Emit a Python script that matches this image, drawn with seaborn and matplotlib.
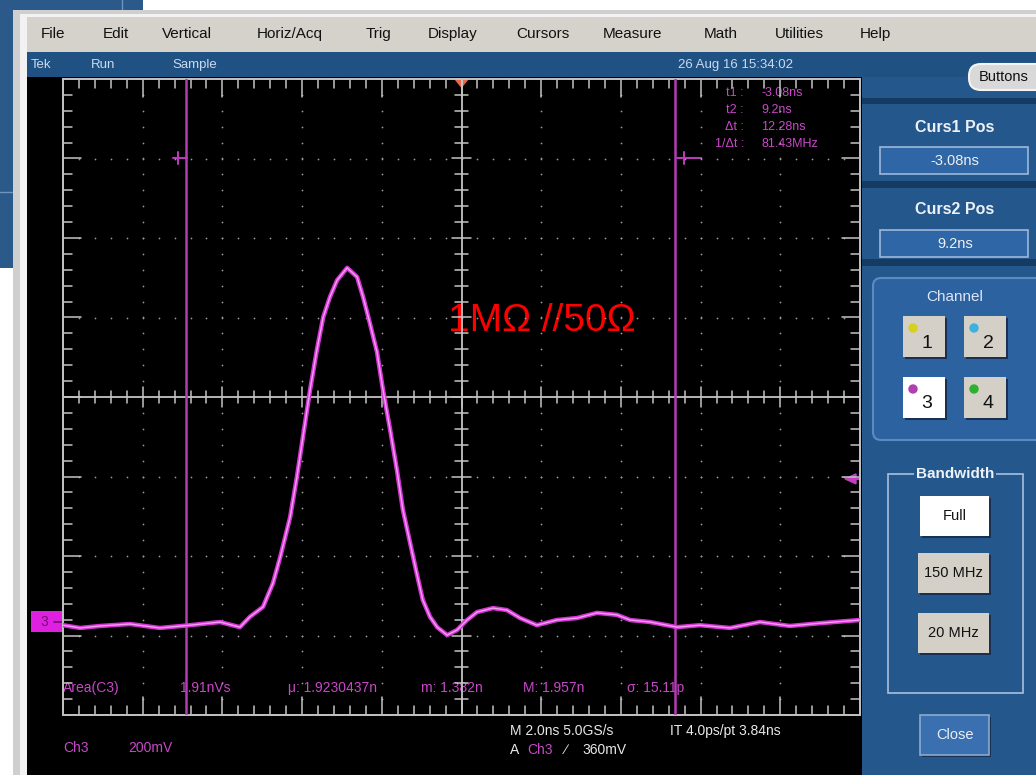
import numpy as np
import matplotlib
matplotlib.use("Agg")
import matplotlib.pyplot as plt
import seaborn as sns
from matplotlib.patches import Rectangle, FancyBboxPatch, Polygon

time_ns = [-6.16, -5.73, -5.23, -4.48, -3.73, -2.97, -2.22, -1.72, -1.47, -1.14,
           -0.89, -0.71, -0.46, -0.29, -0.14, 0.04, 0.21, 0.37, 0.54, 0.72,
           0.97, 1.22, 1.37, 1.54, 1.72, 1.87, 2.05, 2.22, 2.37, 2.55,
           2.72, 2.87, 3.05, 3.23, 3.48, 3.73, 3.98, 4.23, 4.63, 4.98,
           5.31, 5.73, 6.23, 6.74, 7.24, 7.74, 8.07, 8.57, 9.25, 9.82,
           10.58, 11.33, 12.08, 12.83, 13.84]
volt_mV = [-8, -15, -10, -5, -15, -8, 0, -13, 13, 38,
           98, 163, 264, 365, 465, 584, 684, 767, 818, 860,
           891, 868, 818, 752, 679, 584, 483, 382, 282, 199,
           121, 55, 13, -13, -33, -20, 5, 25, 35, 30,
           10, -8, 5, 10, 23, 18, 5, 0, -13, -8,
           -15, 0, -10, -3, 5]
cursor_ns = [-3.08, 9.2]
trigger_mV = 360
horiz_center_ns = 3.84
ns_per_div = 2.0
mV_per_div = 200.0

menu_items = ["File", "Edit", "Vertical", "Horiz/Acq", "Trig", "Display",
              "Cursors", "Measure", "Math", "Utilities", "Help"]
status_items = ["Tek", "Run", "Sample"]
date_text = "26 Aug 16 15:34:02"
readout_labels = ["t1 :", "t2 :", "\u0394t :", "1/\u0394t :"]
readout_values = ["-3.08ns", "9.2ns", "12.28ns", "81.43MHz"]
meas_texts = ["Area(C3)", "1.91nVs", "\u03bc: 1.9230437n", "m: 1.382n", "M: 1.957n", "\u03c3: 15.11p"]
annotation = "1M\u03a9 //50\u03a9"

# ---------------- style ----------------
sns.set_style("white")
plt.rcParams['font.family'] = ['Liberation Sans', 'DejaVu Sans']

W, H = 1036, 775
fig = plt.figure(figsize=(W / 100, H / 100), dpi=100)
fig.patch.set_facecolor("white")
bg = fig.add_axes([0, 0, 1, 1])
bg.set_xlim(0, W)
bg.set_ylim(H, 0)
bg.axis("off")


def rect(x0, y0, x1, y1, fc, ec="none", lw=0, z=1, **kw):
    p = Rectangle((x0, y0), x1 - x0, y1 - y0, facecolor=fc, edgecolor=ec, linewidth=lw, zorder=z, **kw)
    bg.add_patch(p)
    return p


def txt(x, y, s, color="black", size=10, ha="left", va="center", weight="normal", z=5, **kw):
    bg.text(x, y, s, color=color, fontsize=size, ha=ha, va=va, fontweight=weight, zorder=z, **kw)


# background window behind
rect(0, 0, 143, 268, "#2B5A8A")
bg.plot([0, 13], [192, 192], color="#6F95BF", lw=1, zorder=1.5)
bg.plot([122, 122], [0, 12], color="#6F95BF", lw=1, zorder=1.5)

# main window frame
rect(13, 10, W, H, "#CFCFCF", z=2)
rect(20, 14, W, H, "#F2F2F2", z=2.1)
rect(27, 17, W, 52, "#D5D2CB", z=2.2)
rect(27, 52, W, 77, "#1F5283", z=2.3)
rect(27, 77, 862, H, "#000000", z=2.3)
rect(862, 77, W, H, "#24578B", z=2.3)

# menu
menu_x = [41, 103, 162, 257, 366, 428, 516, 603, 704, 775, 860]
for x, m in zip(menu_x, menu_items):
    txt(x, 34, m, color="#111111", size=11)

# status bar
for x, s in zip([31, 91, 172], status_items):
    txt(x, 65, s, color="#C9DAF0", size=9.5)
txt(735, 65, date_text, color="#C9DAF0", size=9.5, ha="center")

# ---------------- right panel ----------------
for y0, y1 in [(98, 104), (181, 188), (259, 266)]:
    rect(862, y0, W, y1, "#163B63", z=2.5)
bg.add_patch(FancyBboxPatch((969, 64), 80, 26, boxstyle="round,pad=0,rounding_size=12",
                            facecolor="#D9D9D9", edgecolor="#F4F4F4", lw=1.5, zorder=3))
txt(1004, 77, "Buttons", color="#111111", size=10.5, ha="center")

txt(955, 127, "Curs1 Pos", color="#EEF2F8", size=11.5, ha="center", weight="bold")
rect(880, 147, 1028, 174, "#2F66A6", ec="#9DB8DA", lw=1.2, z=3)
txt(955, 161, "-3.08ns", color="#F0F0F0", size=10.5, ha="center")
txt(955, 210, "Curs2 Pos", color="#EEF2F8", size=11.5, ha="center", weight="bold")
rect(880, 230, 1028, 257, "#2F66A6", ec="#9DB8DA", lw=1.2, z=3)
txt(955, 244, "9.2ns", color="#F0F0F0", size=10.5, ha="center")

bg.add_patch(FancyBboxPatch((873, 278), 175, 162, boxstyle="round,pad=0,rounding_size=8",
                            facecolor="#2D62A0", edgecolor="#5C8AC2", lw=1.5, zorder=3))
txt(955, 297, "Channel", color="#DCE6F5", size=11, ha="center")
ch_btns = [(903, 316, "1", "#D8D020", "#D4D0C8"), (964, 316, "2", "#40B0E0", "#D4D0C8"),
           (903, 377, "3", "#B040B0", "#FFFFFF"), (964, 377, "4", "#30B030", "#D4D0C8")]
for x, y, lab, dot, face in ch_btns:
    rect(x + 2, y + 2, x + 44, y + 43, "#1A3050", z=3.2)
    rect(x, y, x + 42, y + 41, face, z=3.3)
    bg.add_patch(plt.Circle((x + 10, y + 12), 4, color=dot, zorder=3.5))
    txt(x + 24, y + 27, lab, color="#111111", size=14, ha="center")

rect(888, 474, 1023, 693, "none", ec="#A8C0E0", lw=1.2, z=3)
txt(955, 474, "Bandwidth", color="#EEF2F8", size=11, ha="center", weight="bold",
    bbox=dict(facecolor="#24578B", edgecolor="none", pad=1))
for (x0, y0, x1, y1, face, lab) in [(920, 496, 989, 536, "#FFFFFF", "Full"),
                                     (918, 553, 989, 593, "#D4D0C8", "150 MHz"),
                                     (918, 613, 989, 653, "#D4D0C8", "20 MHz")]:
    rect(x0 + 2, y0 + 2, x1 + 2, y1 + 2, "#1A3050", z=3.2)
    rect(x0, y0, x1, y1, face, z=3.3)
    txt((x0 + x1) / 2, (y0 + y1) / 2, lab, color="#111111", size=10.5, ha="center")
rect(922, 717, 991, 757, "#1A3050", z=3.2)
rect(920, 715, 989, 755, "#3A70B0", ec="#8AAAD0", lw=1.2, z=3.3)
txt(955, 735, "Close", color="#E8EEF8", size=10.5, ha="center")

# ---------------- scope display ----------------
gx0, gx1, gy0, gy1 = 63, 860, 79, 715
rect_ax = [gx0 / W, 1 - gy1 / H, (gx1 - gx0) / W, (gy1 - gy0) / H]

grat = fig.add_axes(rect_ax)
grat.set_xlim(0, 10)
grat.set_ylim(0, 8)
grat.axis("off")
grat.patch.set_alpha(0)
gc = "#C4C4C4"
grat.add_patch(Rectangle((0, 0), 10, 8, fill=False, ec=gc, lw=1.4, clip_on=False))
grat.axhline(4, color=gc, lw=1.3)
grat.axvline(5, color=gc, lw=1.3)
# dotted division grid
dots_x, dots_y = [], []
for xd in range(1, 10):
    if xd == 5:
        continue
    for yy in np.arange(0.2, 8.0, 0.2):
        dots_x.append(xd); dots_y.append(yy)
for yd in range(1, 8):
    if yd == 4:
        continue
    for xx in np.arange(0.2, 10.0, 0.2):
        dots_x.append(xx); dots_y.append(yd)
grat.scatter(dots_x, dots_y, s=1.6, color="#9A9A9A", linewidths=0)
# ticks
segs = []
for xx in np.arange(0.2, 10.0, 0.2):
    major = abs(xx - round(xx)) < 1e-6
    L = 0.23 if major else 0.11
    segs += [([xx, xx], [8, 8 - L]), ([xx, xx], [0, L])]
    c = 0.12 if major else 0.08
    segs.append(([xx, xx], [4 - c, 4 + c]))
for yy in np.arange(0.2, 8.0, 0.2):
    major = abs(yy - round(yy)) < 1e-6
    L = 0.23 if major else 0.11
    segs += [([0, L], [yy, yy]), ([10, 10 - L], [yy, yy])]
    c = 0.12 if major else 0.08
    segs.append(([5 - c, 5 + c], [yy, yy]))
for sx, sy in segs:
    grat.plot(sx, sy, color=gc, lw=1.1)

ax = fig.add_axes(rect_ax)
ax.patch.set_alpha(0)
ax.set_xlim(horiz_center_ns - 5 * ns_per_div, horiz_center_ns + 5 * ns_per_div)
gnd_div = (gy1 - 622) / ((gy1 - gy0) / 8)
ax.set_ylim(-gnd_div * mV_per_div, (8 - gnd_div) * mV_per_div)
ax.axis("off")
for c in cursor_ns:
    ax.axvline(c, color="#B43CB4", lw=1.8, zorder=2)
sns.lineplot(x=time_ns, y=volt_mV, ax=ax, color="#D535D5", linewidth=3.2,
             estimator=None, sort=False, zorder=3)
sns.lineplot(x=time_ns, y=volt_mV, ax=ax, color="#F2A0F2", linewidth=1.0,
             estimator=None, sort=False, zorder=4)

# cursor flags
bg.plot([173, 187], [158, 158], color="#B43CB4", lw=1.5, zorder=6)
bg.plot([178, 178], [152, 164], color="#B43CB4", lw=1.5, zorder=6)
bg.plot([677, 701], [158, 158], color="#B43CB4", lw=1.5, zorder=6)
bg.plot([684, 684], [152, 164], color="#B43CB4", lw=1.5, zorder=6)

# trigger markers
bg.add_patch(Polygon([[455, 79], [468, 79], [461.5, 87]], closed=True, color="#F06448", zorder=7))
ytrig = 622 - trigger_mV / mV_per_div * ((gy1 - gy0) / 8)
bg.add_patch(Polygon([[845, ytrig], [856, ytrig - 5], [856, ytrig + 5]], closed=True, color="#C040C0", zorder=7))
bg.plot([856, 860], [ytrig, ytrig], color="#C040C0", lw=1.5, zorder=7)

# channel 3 ground marker
rect(31, 611, 62, 632, "#E020E0", z=7)
txt(44, 622, "3", color="#701070", size=10, ha="center", z=8)
bg.plot([54, 63], [622, 622], color="#701070", lw=1.2, zorder=8)

# annotation
txt(448, 321, annotation, color="#FF0000", size=28, z=9)

# cursor readouts
mag = "#C848C8"
for i, (lab, val) in enumerate(zip(readout_labels, readout_values)):
    y = 93 + 17 * i
    txt(744, y, lab, color=mag, size=9, ha="right", z=9)
    txt(761, y, val, color=mag, size=9, z=9)

# measurement line
for x, s in zip([63, 180, 288, 421, 523, 627], meas_texts):
    txt(x, 688, s, color=mag, size=10, z=9)

# bottom readouts
txt(63, 748, "Ch3", color=mag, size=10)
txt(128, 748, "200mV", color=mag, size=10)
txt(510, 731, "M 2.0ns 5.0GS/s", color="#E8E8E8", size=10)
txt(670, 731, "IT 4.0ps/pt 3.84ns", color="#E8E8E8", size=10)
txt(510, 750, "A", color="#E8E8E8", size=10)
txt(527, 750, "Ch3", color=mag, size=10)
txt(565, 750, "\u2215", color="#E8E8E8", size=10)
txt(582, 750, "360mV", color="#E8E8E8", size=10)

fig.savefig("out.png", dpi=100, facecolor=fig.get_facecolor())
